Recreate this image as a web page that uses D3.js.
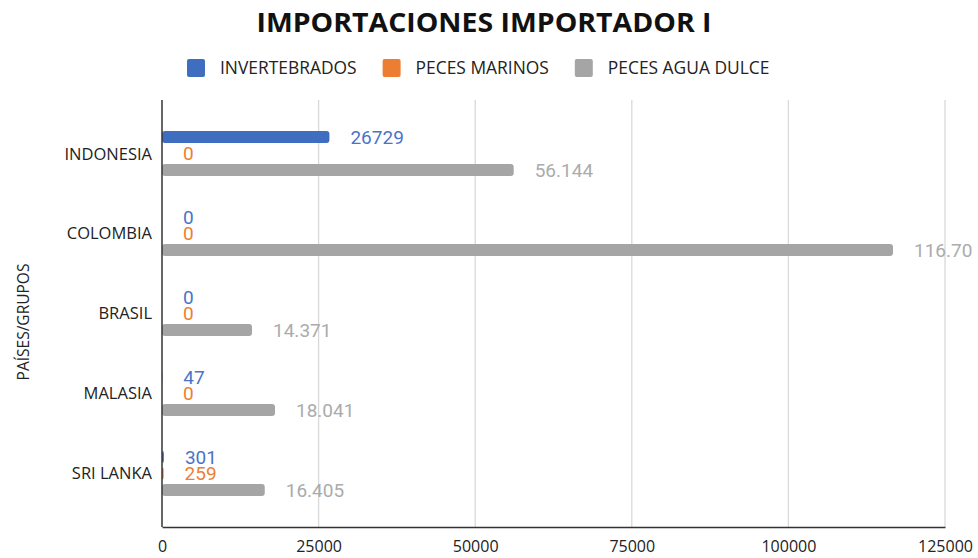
<html>
  <head>
    <meta charset="utf-8">
    <title>Importaciones importador I</title>
    <script src="https://cdn.jsdelivr.net/npm/d3@7"></script>
    <style>
      body { margin: 0; background: #fff; }
      svg { display: block; }
    </style>
  </head>
  <body>
    <div id="main"></div>
  <script>
    // data
    var categories = ["INDONESIA", "COLOMBIA", "BRASIL", "MALASIA", "SRI LANKA"];
    var seriesNames = ["INVERTEBRADOS", "PECES MARINOS", "PECES AGUA DULCE"];
    var invertebrados = [26729, 0, 0, 47, 301];
    var pecesMarinos = [0, 0, 0, 0, 259];
    var pecesAguaDulce = [56144, 116700, 14371, 18041, 16405];
    var xTicks = [0, 25000, 50000, 75000, 100000, 125000];

    var seriesValues = [invertebrados, pecesMarinos, pecesAguaDulce];
    var barColors = ["#3F6DC0", "#ED7D31", "#A5A5A5"];
    var labelColors = ["#4A74C9", "#EE7E32", "#ABABAB"];

    var svgWidth = 978;
    var svgHeight = 558;
    var font = "'Open Sans', sans-serif";

    var svg = d3.select("#main")
      .append("svg")
      .attr("width", svgWidth)
      .attr("height", svgHeight);

    // the original chart cuts the longest label at its right edge
    svg.append("clipPath")
      .attr("id", "chartClip")
      .append("rect")
      .attr("x", 0).attr("y", 0)
      .attr("width", 973).attr("height", svgHeight);

    var plotLeft = 162, plotRight = 945, plotTop = 100, plotBottom = 527;

    var x = d3.scaleLinear().domain([0, 125000]).range([plotLeft, plotRight]);
    var y = d3.scaleBand().domain(categories).range([plotTop, plotBottom]).paddingOuter(0.17);
    var sub = d3.scaleBand().domain(seriesNames).range([-24.75, 24.75])
      .paddingInner(0.27).paddingOuter(0.135);

    // gridlines
    svg.append("g")
      .selectAll("line")
      .data(xTicks.slice(1))
      .enter()
      .append("line")
      .attr("x1", function(d) { return x(d); })
      .attr("x2", function(d) { return x(d); })
      .attr("y1", plotTop)
      .attr("y2", plotBottom)
      .style("stroke", "#D9D9D9")
      .style("stroke-width", 1.3);

    // x axis
    var xAxis = svg.append("g")
      .attr("transform", "translate(0," + plotBottom + ")")
      .call(d3.axisBottom(x).tickValues(xTicks).tickSize(0).tickPadding(14).tickFormat(d3.format("d")));
    xAxis.select(".domain").style("stroke", "#333").style("stroke-width", 1.5);
    xAxis.selectAll("text").style("font-family", font).style("font-size", "16px").style("fill", "#222");

    // bars
    var thousandsFmt = d3.formatLocale({ decimal: ",", thousands: ".", grouping: [3], currency: ["", ""] }).format(",d");
    var plainFmt = d3.format("d");

    seriesNames.forEach(function(name, s) {
      var g = svg.append("g").attr("clip-path", "url(#chartClip)");
      var rows = categories.map(function(c, i) { return { cat: c, value: seriesValues[s][i] }; });

      g.selectAll("rect")
        .data(rows)
        .enter()
        .append("rect")
        .attr("x", x(0))
        .attr("y", function(d) { return y(d.cat) + y.bandwidth() / 2 + sub(name); })
        .attr("width", function(d) { return x(d.value) - x(0); })
        .attr("height", sub.bandwidth())
        .attr("rx", 3)
        .style("fill", barColors[s]);

      g.selectAll("text")
        .data(rows)
        .enter()
        .append("text")
        .attr("x", function(d) { return x(d.value) + 21; })
        .attr("y", function(d) { return y(d.cat) + y.bandwidth() / 2 + sub(name) + sub.bandwidth() / 2; })
        .attr("dy", "0.36em")
        .style("font-family", "Roboto, sans-serif")
        .style("font-size", "19px")
        .style("fill", labelColors[s])
        .text(function(d) { return s === 2 ? thousandsFmt(d.value) : plainFmt(d.value); });
    });

    // y axis line
    svg.append("line")
      .attr("x1", plotLeft).attr("x2", plotLeft)
      .attr("y1", plotTop).attr("y2", plotBottom)
      .style("stroke", "#333")
      .style("stroke-width", 1.5);

    // category labels
    svg.append("g")
      .selectAll("text")
      .data(categories)
      .enter()
      .append("text")
      .attr("x", 152)
      .attr("y", function(d) { return y(d) + y.bandwidth() / 2; })
      .attr("dy", "0.36em")
      .attr("text-anchor", "end")
      .style("font-family", font)
      .style("font-size", "16.5px")
      .style("fill", "#222")
      .text(function(d) { return d; });

    // y axis title
    svg.append("text")
      .attr("transform", "translate(29,322) rotate(-90)")
      .attr("text-anchor", "middle")
      .style("font-family", font)
      .style("font-size", "15.5px")
      .style("fill", "#222")
      .text("PAÍSES/GRUPOS");

    // title
    svg.append("text")
      .attr("x", 484)
      .attr("y", 32)
      .attr("text-anchor", "middle")
      .attr("textLength", 455)
      .attr("lengthAdjust", "spacingAndGlyphs")
      .style("font-family", font)
      .style("font-weight", "bold")
      .style("font-size", "27px")
      .style("fill", "#111")
      .text("IMPORTACIONES IMPORTADOR I");

    // legend
    var legend = svg.append("g");
    var lx = 187;
    seriesNames.forEach(function(name, s) {
      legend.append("rect")
        .attr("x", lx).attr("y", 59)
        .attr("width", 18).attr("height", 18)
        .attr("rx", 2)
        .style("fill", barColors[s]);
      var t = legend.append("text")
        .attr("x", lx + 33)
        .attr("y", 68)
        .attr("dy", "0.36em")
        .style("font-family", font)
        .style("font-size", "17.4px")
        .style("fill", "#222")
        .text(name);
      lx += 33 + t.node().getComputedTextLength() + 26;
    });
  </script>
  </body>
</html>
